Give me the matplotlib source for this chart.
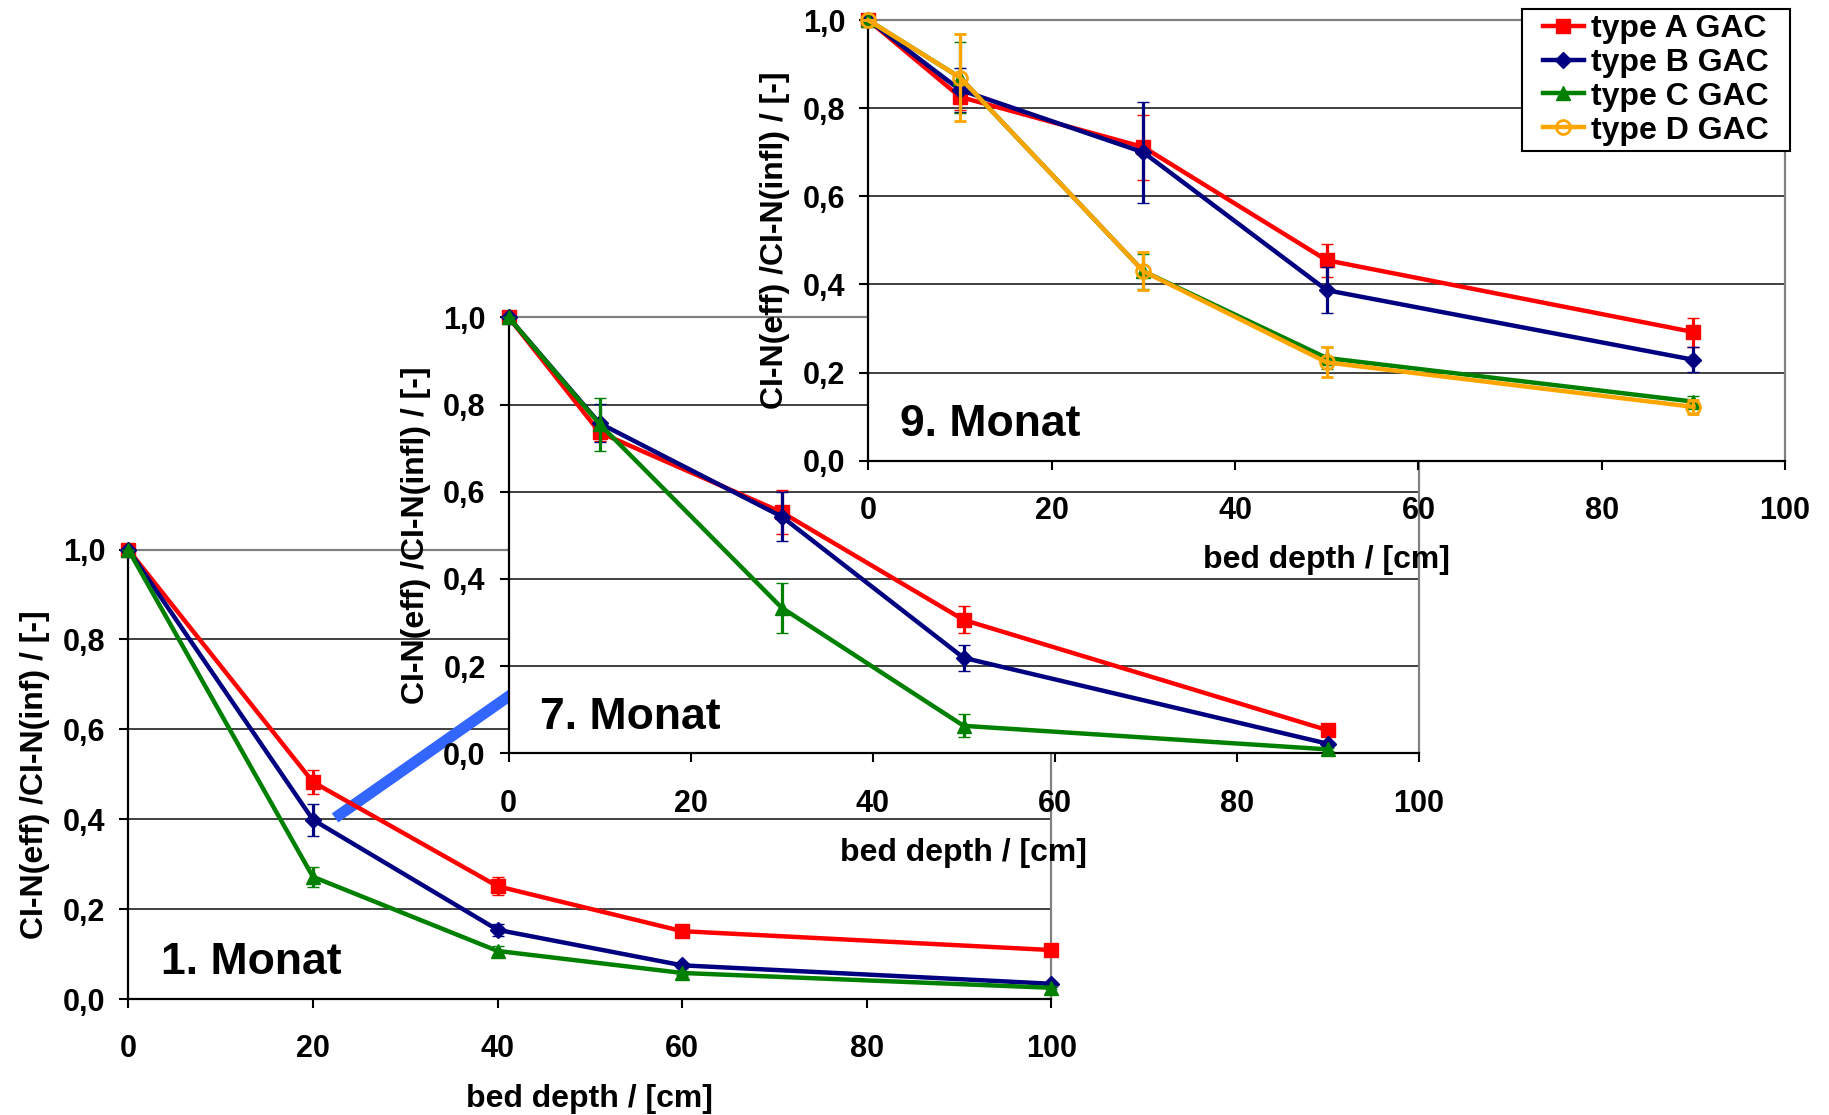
import matplotlib
matplotlib.use("Agg")
import matplotlib.pyplot as plt
from matplotlib.patches import Rectangle
from matplotlib.ticker import FuncFormatter, MultipleLocator

plt.rcParams['font.family'] = ['Liberation Sans', 'DejaVu Sans']
plt.rcParams['font.weight'] = 'bold'

# bed depth / cm
depth_m1 = [0, 20, 40, 60, 100]
depth_m7 = [0, 10, 30, 50, 90]
depth_m9 = [0, 10, 30, 50, 90]

# 1. Monat
m1_a = [1.0, 0.483, 0.251, 0.151, 0.109]
m1_a_err = [0.0, 0.026, 0.020, 0.010, 0.006]
m1_b = [1.0, 0.399, 0.154, 0.075, 0.034]
m1_b_err = [0.0, 0.036, 0.014, 0.006, 0.004]
m1_c = [1.0, 0.272, 0.107, 0.058, 0.025]
m1_c_err = [0.0, 0.022, 0.010, 0.005, 0.003]

# 7. Monat
m7_a = [1.0, 0.736, 0.553, 0.306, 0.053]
m7_a_err = [0.0, 0.020, 0.050, 0.031, 0.010]
m7_b = [1.0, 0.757, 0.543, 0.219, 0.022]
m7_b_err = [0.0, 0.044, 0.056, 0.030, 0.005]
m7_c = [1.0, 0.755, 0.334, 0.063, 0.009]
m7_c_err = [0.0, 0.061, 0.057, 0.026, 0.004]

# 9. Monat
m9_a = [1.0, 0.826, 0.712, 0.455, 0.292]
m9_a_err = [0.0, 0.030, 0.074, 0.037, 0.033]
m9_b = [1.0, 0.842, 0.700, 0.387, 0.229]
m9_b_err = [0.0, 0.050, 0.114, 0.052, 0.028]
m9_c = [1.0, 0.870, 0.430, 0.233, 0.134]
m9_c_err = [0.0, 0.080, 0.040, 0.025, 0.013]
m9_d = [1.0, 0.870, 0.430, 0.223, 0.122]
m9_d_err = [0.0, 0.099, 0.043, 0.034, 0.016]

labels = ['type A GAC', 'type B GAC', 'type C GAC', 'type D GAC']
colors = ['#FF0000', '#000080', '#008000', '#FFA500']
markers = ['s', 'D', '^', 'o']
msizes = [10, 8, 10, 10]

TICK_FS = 22
LABEL_FS = 23
LEGEND_FS = 23
MONAT_FS = 32

comma = FuncFormatter(lambda v, p: f"{v:.1f}".replace('.', ','))


def draw_series(ax, x, y, err, i):
    mfc = 'none' if markers[i] == 'o' else colors[i]
    h = ax.errorbar(x, y, yerr=err, color=colors[i], lw=3.2,
                    marker=markers[i], ms=msizes[i], mfc=mfc, mec=colors[i],
                    mew=2 if markers[i] == 'o' else 1,
                    ecolor=colors[i], elinewidth=2.3, capsize=4.3, capthick=3.5,
                    label=labels[i], zorder=3 + i, clip_on=False)
    for art in h.lines[1] + h.lines[2]:
        art.set_clip_on(False)
    return h


def style_axes(ax, ylabel, monat):
    ax.set_facecolor('white')
    ax.set_xlim(0, 100)
    ax.set_ylim(0, 1.0)
    ax.xaxis.set_major_locator(MultipleLocator(20))
    ax.yaxis.set_major_locator(MultipleLocator(0.2))
    ax.yaxis.set_major_formatter(comma)
    ax.grid(axis='y', color='#404040', lw=1.4, zorder=0)
    ax.set_axisbelow(True)
    for side in ['left', 'bottom']:
        ax.spines[side].set_color('black')
        ax.spines[side].set_linewidth(1.6)
    for side in ['top', 'right']:
        ax.spines[side].set_color('#808080')
        ax.spines[side].set_linewidth(1.6)
    ax.tick_params(axis='x', direction='out', length=6.5, width=1.5,
                   pad=19, labelsize=TICK_FS)
    ax.tick_params(axis='y', direction='out', length=6.5, width=1.5,
                   pad=10, labelsize=TICK_FS)
    for t in ax.get_xticklabels() + ax.get_yticklabels():
        t.set_fontweight('bold')
    ax.set_xlabel('bed depth / [cm]', fontsize=LABEL_FS, fontweight='bold',
                  labelpad=14)
    ax.set_ylabel(ylabel, fontsize=LABEL_FS, fontweight='bold', labelpad=9)
    ax.text(0.035, 0.055, monat, transform=ax.transAxes, fontsize=MONAT_FS,
            fontweight='bold', ha='left', va='baseline', zorder=10)


fig = plt.figure(figsize=(18.29, 11.15), dpi=100)

# 1. Monat (bottom left)
ax1 = fig.add_axes([0.0701, 0.1040, 0.5048, 0.4031])
style_axes(ax1, 'CI-N(eff) /CI-N(inf) / [-]', '1. Monat')
for i, (y, e) in enumerate([(m1_a, m1_a_err), (m1_b, m1_b_err), (m1_c, m1_c_err)]):
    draw_series(ax1, depth_m1, y, e, i)

# connector pointing from the first month to the seventh
ax1.plot([22.4, 50], [0.403, 0.80], color='#3366FF', lw=8,
         solid_capstyle='butt', zorder=2, clip_on=False)

# 7. Monat (middle)
ax7 = fig.add_axes([0.2781, 0.3244, 0.4975, 0.3910])
style_axes(ax7, 'CI-N(eff) /CI-N(infl) / [-]', '7. Monat')
for i, (y, e) in enumerate([(m7_a, m7_a_err), (m7_b, m7_b_err), (m7_c, m7_c_err)]):
    draw_series(ax7, depth_m7, y, e, i)

# 9. Monat (top right)
ax9 = fig.add_axes([0.4748, 0.5869, 0.5012, 0.3949])
style_axes(ax9, 'CI-N(eff) /CI-N(infl) / [-]', '9. Monat')
handles = []
for i, (y, e) in enumerate([(m9_a, m9_a_err), (m9_b, m9_b_err),
                            (m9_c, m9_c_err), (m9_d, m9_d_err)]):
    handles.append(draw_series(ax9, depth_m9, y, e, i))

# legend: tight rows, wider side margins -> frame drawn separately
leg = fig.legend(handles=[h.lines[0] for h in handles], labels=labels,
                 loc='upper right', bbox_to_anchor=(1769 / 1829, 1 - 14 / 1115),
                 fontsize=LEGEND_FS, frameon=False, handlelength=1.3,
                 handletextpad=0.22, labelspacing=0.12, borderpad=0.0,
                 borderaxespad=0)
for t in leg.get_texts():
    t.set_fontweight('bold')
leg.set_zorder(12)

fig.canvas.draw()
bb = leg.get_window_extent(fig.canvas.get_renderer())
padx, pady = 21, 5
frame = Rectangle((bb.x0 - padx, bb.y0 - pady), bb.width + 2 * padx,
                  bb.height + 2 * pady, transform=None, facecolor='white',
                  edgecolor='black', lw=1.5, zorder=11)
fig.add_artist(frame)

fig.savefig('out.png', dpi=100)
